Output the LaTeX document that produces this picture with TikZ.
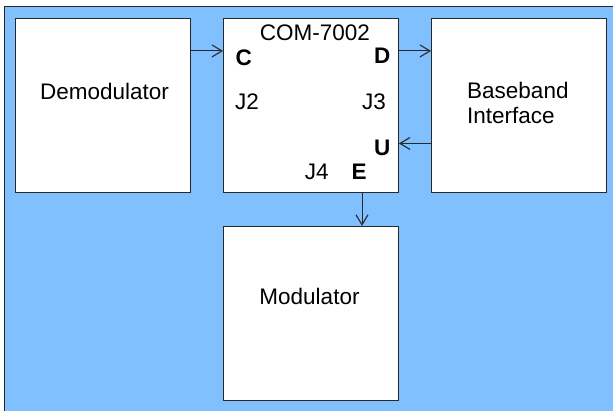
\documentclass[tikz,border=0pt]{standalone}
\usepackage{fontspec}
\setmainfont{Liberation Sans}
\usetikzlibrary{arrows.meta}
\definecolor{bgblue}{RGB}{128,192,255}
\definecolor{edge}{RGB}{40,40,40}
\tikzset{
  blockbox/.style={draw=edge, fill=white, line width=0.9pt, inner sep=0pt,
    minimum width=175pt, minimum height=174pt},
  lbl/.style={anchor=base, inner sep=0pt, font=\fontsize{22.5}{27}\selectfont},
  pin/.style={anchor=base, inner sep=0pt, font=\fontsize{22.5}{27}\selectfont\bfseries},
  arr/.style={draw=edge, line width=0.9pt, -{Straight Barb[length=10pt,width=12pt,line width=1.1pt]}}
}
\begin{document}
\begin{tikzpicture}[x=1pt,y=-1pt]
\clip (0,0) rectangle (613,411);
\fill[white] (0,0) rectangle (613,411);
\draw[draw=edge, fill=bgblue, line width=1pt] (4,7) rectangle (640,440);
\node[blockbox] (demod) at (102.5,105.4) {};
\node[blockbox] (com) at (311,105.4) {};
\node[blockbox] (bb) at (519,105.4) {};
\node[blockbox] (mod) at (311,313.3) {};
% labels
\node[lbl] (tdemod) at (104.5,100) {Demodulator};
\node[lbl] (tcom) at (315,40.5) {COM-7002};
\node[lbl, anchor=base west] (tbb1) at (467,98.5) {Baseband};
\node[lbl, anchor=base west] (tbb2) at (467,124) {Interface};
\node[lbl] (tmod) at (309.5,305) {Modulator};
\node[lbl] (j2) at (247,110) {J2};
\node[lbl] (j3) at (374,110) {J3};
\node[lbl] (j4) at (316.7,179.3) {J4};
\node[pin] (pc) at (243.8,66) {C};
\node[pin] (pd) at (382.2,63.3) {D};
\node[pin] (pu) at (382.2,156) {U};
\node[pin] (pe) at (359.2,179.3) {E};
% connectors
\draw[arr] ([yshift=-33pt]demod.north east) -- ([yshift=-33pt]com.north west);
\draw[arr] ([yshift=-33pt]com.north east) -- ([yshift=-33pt]bb.north west);
\draw[arr] ([yshift=-125.5pt]bb.north west) -- ([yshift=-125.5pt]com.north east);
\draw[arr] ([xshift=51pt]com.south) -- ([xshift=51pt]mod.north);
\end{tikzpicture}
\end{document}
